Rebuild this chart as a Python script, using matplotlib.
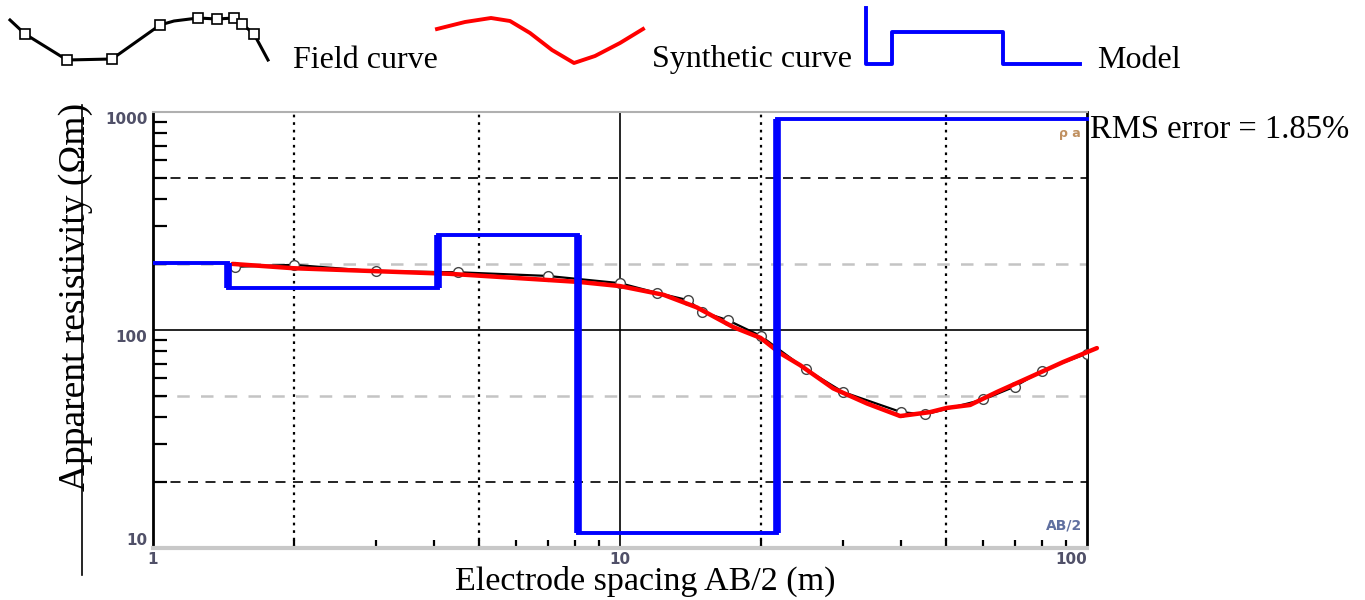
import matplotlib
matplotlib.use("Agg")
import matplotlib.pyplot as plt
from matplotlib.lines import Line2D
import numpy as np

# ---- data ----
field_x = [1.5, 2, 3, 4.5, 7, 10, 12, 14, 15, 17, 20, 25, 30, 40, 45, 60, 70, 80, 100]
field_y = [195, 199, 186, 184, 177, 164, 148, 137, 121, 111, 94, 66, 52, 42, 41, 48, 55, 65, 78]

synth_x = [1.48, 2, 4.32, 8.21, 10, 12.4, 14.6, 16.4, 17.5, 20, 22.0, 24.3, 28.6, 33.8,
           39.8, 46.1, 50.1, 56.2, 64.2, 75.5, 88.9, 105]
synth_y = [201, 192, 181, 166, 159, 145, 127, 111, 103, 92, 78.4, 69, 54, 46,
           40.3, 42, 43.9, 45.3, 52, 60.8, 71.3, 82.6]

model_edges = [1, 1.45, 4.08, 8.13, 21.7, 101]
model_rho = [203, 156, 273, 11.7, 930]

xticks = [1, 10, 100]
xtick_labels = ["1", "10", "100"]
yticks = [10, 100, 1000]
ytick_labels = ["10", "100", "1000"]

# legend icon shapes (pixel-like coordinates of the decorative icons)
icon_field_x = [10, 25, 67, 112, 160, 174, 198, 217, 234, 242, 254, 268]
icon_field_y = [20, 34, 60, 59, 25, 21, 18, 19, 18, 24, 34, 60]
icon_field_mk = [1, 2, 3, 4, 6, 7, 8, 9, 10]
icon_synth_x = [437, 465, 491, 510, 530, 552, 574, 595, 620, 643]
icon_synth_y = [29, 22, 18, 21, 33, 50, 63, 56, 43, 29]
icon_model_x = [866, 866, 892, 892, 1003, 1003, 1080]
icon_model_y = [8, 64, 64, 32, 32, 64, 64]

W, H = 1365, 600
SERIF = ["Liberation Serif", "DejaVu Serif"]

fig = plt.figure(figsize=(W / 100, H / 100), dpi=100)
ax = fig.add_axes([153 / W, 1 - 548 / H, (1087 - 153) / W, (548 - 112) / H])
ax.set_xscale("log")
ax.set_yscale("log")
ax.set_xlim(1, 100)
ax.set_ylim(10, 1000)

# grid lines
for gx in [2, 5, 20, 50]:
    ax.axvline(gx, color="black", lw=1.6, ls=(0, (1.2, 2.2)), zorder=1)
ax.axvline(10, color="black", lw=1.2, zorder=1)
ax.axhline(100, color="black", lw=1.2, zorder=1)
for gy in [20, 500]:
    ax.axhline(gy, color="black", lw=1.2, ls=(0, (6, 4.5)), zorder=1)
for gy in [50, 200]:
    ax.axhline(gy, color="#c4c4c4", lw=1.8, ls=(0, (5, 4.5)), zorder=1)

# field curve
ax.plot(field_x, field_y, color="black", lw=1.6, marker="o", ms=7,
        mfc="white", mec="#444444", mew=1.0, zorder=3)
# synthetic curve
ax.plot(synth_x, synth_y, color="#ff0000", lw=3.2, zorder=4, clip_on=False,
        solid_capstyle="round")
# model
ax.stairs(model_rho, model_edges, baseline=None, color="#0000ff", lw=2.8,
          zorder=5, clip_on=False)
for i in range(1, len(model_rho)):
    lo, hi = sorted([model_rho[i - 1], model_rho[i]])
    ax.vlines(model_edges[i], lo, hi, color="#0000ff", lw=5.5, zorder=5)

# spines
for s in ["left", "right"]:
    ax.spines[s].set_color("black")
    ax.spines[s].set_linewidth(2.0)
ax.spines["bottom"].set_color("#c8c8c8")
ax.spines["bottom"].set_linewidth(3.0)
ax.spines["top"].set_color("#b0b0b0")
ax.spines["top"].set_linewidth(1.5)

# ticks
tick_kw = dict(fontsize=11, fontweight="bold", color="#505068", family="DejaVu Sans")
ax.set_xticks(xticks)
xl = ax.set_xticklabels(xtick_labels, **tick_kw)
xl[-1].set_ha("right")
ax.set_yticks(yticks)
yl = ax.set_yticklabels(ytick_labels, **tick_kw)
yl[0].set_va("bottom")
yl[1].set_va("top")
yl[2].set_va("top")
ax.tick_params(which="major", direction="in", length=0, pad=4)
ax.tick_params(axis="x", which="major", pad=3)
ax.tick_params(which="minor", direction="in", length=10, width=1.6, color="black",
               labelleft=False, labelbottom=False)
ax.tick_params(axis="x", which="minor", length=6)
gray_minor_y = {30, 60, 70, 300, 400, 600}
for t in ax.yaxis.get_minor_ticks():
    v = t.get_loc()
    if any(abs(v - g) < 1e-6 for g in gray_minor_y):
        t.tick1line.set_color("#b8b8b8")

# small annotations inside the frame
ax.text(0.995, 0.035, "AB/2", transform=ax.transAxes, ha="right", va="bottom",
        fontsize=10, fontweight="bold", color="#6070a0", family="DejaVu Sans")
ax.text(0.993, 0.965, "ρ a", transform=ax.transAxes, ha="right", va="top",
        fontsize=9, fontweight="bold", color="#c09060", family="DejaVu Sans")

# axis labels
fig.text(76 / W, 1 - 297 / H, "Apparent resistivity (Ωm)", rotation=90,
         ha="center", va="center", fontsize=27, family=SERIF)
fig.add_artist(Line2D([82 / W, 82 / W], [1 - 105 / H, 1 - 575 / H],
                      color="black", lw=1.2, transform=fig.transFigure))
fig.text(645 / W, 1 - 581 / H, "Electrode spacing AB/2 (m)", ha="center",
         va="center", fontsize=24.5, family=SERIF)
fig.text(1090 / W, 1 - 130 / H, "RMS error = 1.85%", ha="left", va="center",
         fontsize=23.5, family=SERIF)

# legend (drawn in figure pixel coordinates)
lax = fig.add_axes([0, 0, 1, 1], zorder=-1)
lax.set_xlim(0, W)
lax.set_ylim(H, 0)
lax.axis("off")
lax.plot(icon_field_x, icon_field_y, color="black", lw=2.2)
lax.plot([icon_field_x[i] for i in icon_field_mk], [icon_field_y[i] for i in icon_field_mk],
         ls="none", marker="s", ms=7, mfc="white", mec="black", mew=1.2)
lax.plot(icon_synth_x, icon_synth_y, color="#ff0000", lw=2.8)
lax.plot(icon_model_x, icon_model_y, color="#0000ff", lw=2.8)
lax.text(293, 60, "Field curve", ha="left", va="center", fontsize=23, family=SERIF)
lax.text(652, 60, "Synthetic curve", ha="left", va="center", fontsize=23, family=SERIF)
lax.text(1097, 60, "Model", ha="left", va="center", fontsize=23, family=SERIF)

fig.savefig("out.png", dpi=100)
